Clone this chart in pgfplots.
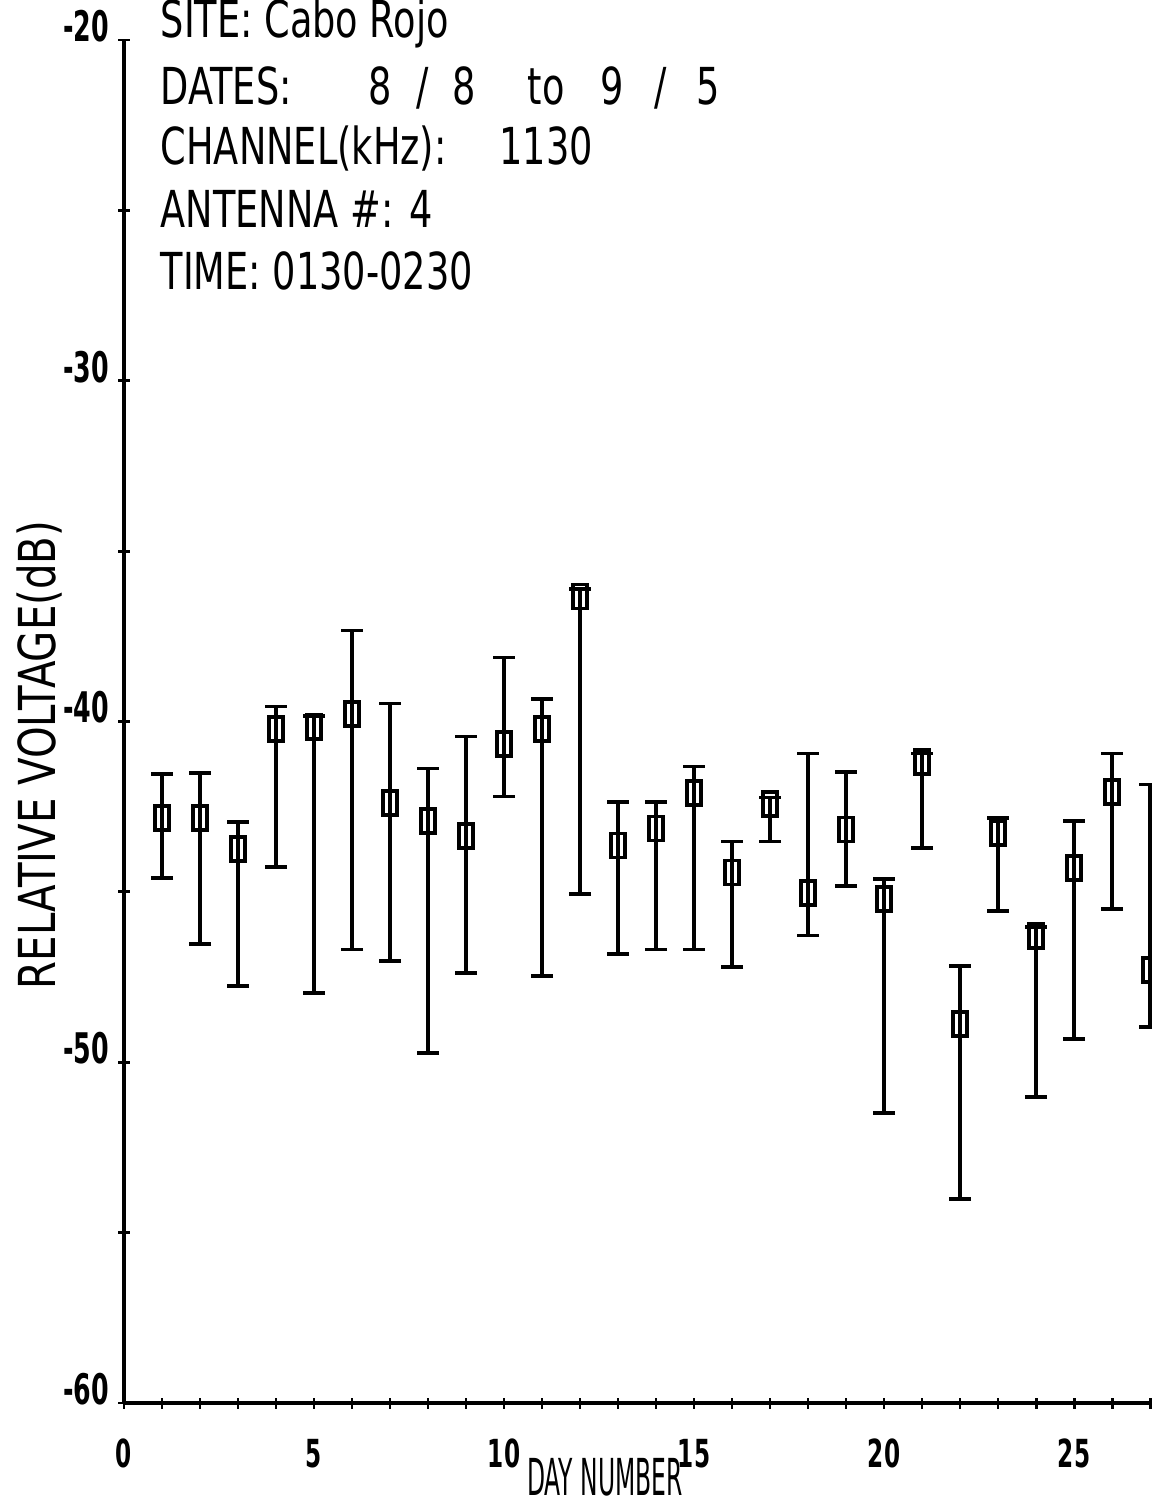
\documentclass[border=0pt]{standalone}
\usepackage{fontspec}
\setmainfont[FakeStretch=0.72]{DejaVu Sans}
\newfontfamily\titlefont[FakeStretch=0.72]{DejaVu Sans}
\newfontfamily\ylabfont[FakeStretch=0.79]{DejaVu Sans}
\newfontfamily\xlabfont[FakeStretch=0.46]{DejaVu Sans}
\newfontfamily\tickfont[FakeStretch=0.6]{DejaVu Sans}
\usepackage{pgfplots}
\pgfplotsset{compat=1.18}
\usepackage{pgfplotstable}

% day, mean, error up, error down
\pgfplotstableread{
day y ep em
1 -42.84 1.29 1.76
2 -42.84 1.32 3.70
3 -43.75 0.79 4.02
4 -40.23 0.67 4.05
5 -40.15 0.30 7.83
6 -39.79 2.46 6.90
7 -42.38 2.91 4.66
8 -42.93 1.55 6.81
9 -43.37 2.93 4.02
10 -40.67 2.55 1.53
11 -40.21 0.88 7.27
12 -36.33 0.23 8.74
13 -43.64 1.29 3.19
14 -43.14 0.79 3.55
15 -42.11 0.79 4.58
16 -44.43 0.91 2.78
17 -42.43 0.20 1.09
18 -45.04 4.10 1.24
19 -43.17 1.70 1.67
20 -45.22 0.59 6.26
21 -41.20 0.26 2.52
22 -48.89 1.71 5.12
23 -43.26 0.42 2.31
24 -46.30 0.26 4.71
25 -44.31 1.38 5.02
26 -42.08 1.14 3.43
27 -47.30 5.45 1.67
}\voltdata

% plotter style "0" marker
\pgfdeclareplotmark{pen}{%
  \pgfsetcornersarced{\pgfpoint{0.5mm}{0.5mm}}%
  \pgfpathrectangle{\pgfpoint{-0.7mm}{-1.2mm}}{\pgfpoint{1.4mm}{2.4mm}}%
  \pgfusepathqstroke
}

\begin{document}
\begin{tikzpicture}
\begin{axis}[
  scale only axis, width=102.8mm, height=136.3mm,
  xmin=0, xmax=27.05, ymin=-60, ymax=-20,
  axis x line=bottom, axis y line=left,
  axis line style={-, line width=0.9pt},
  xtick={0,5,...,25}, minor xtick={1,...,27},
  ytick={-60,-50,...,-20}, minor ytick={-55,-45,...,-25},
  tick align=center, major tick length=1.1mm, minor tick length=1.1mm,
  tick style={black, line width=0.8pt},
  /pgf/number format/assume math mode=true,
  xticklabel style={font=\tickfont\bfseries\fontsize{11}{11}\selectfont, inner sep=0pt, yshift=-3mm},
  yticklabel style={font=\tickfont\bfseries\fontsize{12}{12}\selectfont, inner sep=0pt, xshift=-0.9mm, yshift=1.4mm},
]
\addplot[only marks, mark=pen, mark options={line width=1.1pt},
  error bars/.cd, y dir=both, y explicit,
  error bar style={line width=1pt},
  error mark options={rotate=90, mark size=1.1mm, line width=1.1pt}]
  table[x=day, y=y, y error plus=ep, y error minus=em]{\voltdata};
\coordinate (O) at (axis cs:0,-60);
\end{axis}

\begin{scope}[every node/.style={anchor=base west, inner sep=0pt, font=\titlefont\fontsize{14.5}{16}\selectfont}]
\node at ([shift={(3.6mm,136.5mm)}]O) {SITE: Cabo Rojo};
\node at ([shift={(3.6mm,129.8mm)}]O) {DATES:};
\node at ([shift={(24.4mm,129.8mm)}]O) {8\hspace{2.4mm}/\hspace{2.4mm}8};
\node at ([shift={(40.3mm,129.8mm)}]O) {to};
\node at ([shift={(47.6mm,129.8mm)}]O) {9\hspace{3mm}/\hspace{3mm}5};
\node at ([shift={(3.6mm,123.8mm)}]O) {CHANNEL(kHz):\hspace{5.3mm}1130};
\node at ([shift={(3.6mm,117.5mm)}]O) {ANTENNA \#: 4};
\node at ([shift={(3.6mm,111.3mm)}]O) {TIME: 0130-0230};
\end{scope}

\node[rotate=90, inner sep=0pt, font=\ylabfont\fontsize{14.5}{16}\selectfont] at ([shift={(-8.4mm,64.8mm)}]O) {RELATIVE VOLTAGE(dB)};
\node[inner sep=0pt, font=\xlabfont\fontsize{14.5}{16}\selectfont] at ([shift={(48.1mm,-7.4mm)}]O) {DAY NUMBER};

\pgfresetboundingbox
\path ([shift={(-12.4mm,-9.7mm)}]O) rectangle ++(115.2mm,150mm);
\end{tikzpicture}
\end{document}
